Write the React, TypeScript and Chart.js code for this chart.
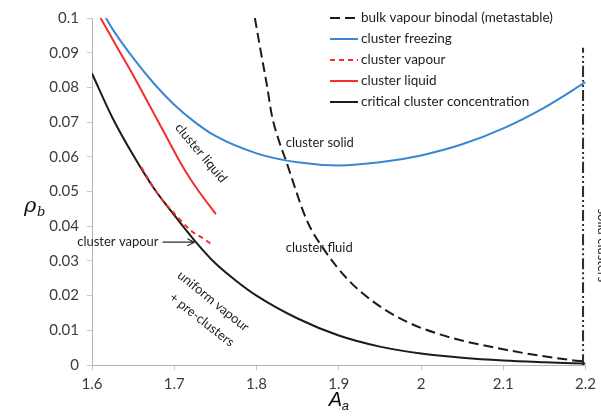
import { useEffect, useRef } from "react";
import { Chart, registerables } from "chart.js";

Chart.register(...registerables);

// Bulk vapour binodal (metastable), dashed black
const binodalA = [1.798, 1.8053, 1.8126, 1.8186, 1.827, 1.8355, 1.861, 1.8826, 1.9116, 1.9394, 1.978, 2.026, 2.105, 2.183, 2.2];
const binodalRho = [0.1, 0.0902, 0.0807, 0.072, 0.0648, 0.0591, 0.0418, 0.0331, 0.0245, 0.0187, 0.013, 0.0086, 0.0043, 0.0014, 0.001];

// Cluster freezing line, blue
const freezeA = [1.6169, 1.625, 1.65, 1.675, 1.7, 1.725, 1.75, 1.8, 1.85, 1.9, 1.95, 2.0, 2.05, 2.1, 2.15, 2.2];
const freezeRho = [0.1, 0.0968, 0.0885, 0.0812, 0.075, 0.07, 0.066, 0.061, 0.0584, 0.0575, 0.0584, 0.0604, 0.0636, 0.0682, 0.0742, 0.0815];

// Cluster vapour branch, dashed red
const vapourA = [1.66, 1.68, 1.7, 1.72, 1.735, 1.7466];
const vapourRho = [0.057, 0.0493, 0.0437, 0.0388, 0.0365, 0.0346];

// Cluster liquid branch, red
const liquidA = [1.6105, 1.63, 1.65, 1.67, 1.69, 1.71, 1.73, 1.7506];
const liquidRho = [0.1, 0.0918, 0.0835, 0.0748, 0.066, 0.0573, 0.05, 0.0435];

// Critical cluster concentration, black
const criticalA = [1.6, 1.625, 1.65, 1.675, 1.7, 1.725, 1.75, 1.775, 1.8, 1.85, 1.9, 1.95, 2.0, 2.05, 2.1, 2.15, 2.2];
const criticalRho = [0.084, 0.0712, 0.0605, 0.051, 0.0432, 0.0358, 0.0293, 0.0243, 0.02, 0.0134, 0.0085, 0.0053, 0.0033, 0.0021, 0.0013, 0.0008, 0.0004];

// Boundary of the solid-cluster region, dash-dot
const solidEdgeA = [2.197, 2.197];
const solidEdgeRho = [0, 0.0914];

const seriesNames = [
  "bulk vapour binodal (metastable)",
  "cluster freezing",
  "cluster vapour",
  "cluster liquid",
  "critical cluster concentration",
];

const BLACK = "#1b1b1b";
const BLUE = "#3b86d2";
const RED = "#f52d2d";
const FONT = "Lato";

const pts = (xs: number[], ys: number[]) => xs.map((x, i) => ({ x, y: ys[i] }));

const legendStyles = [
  { color: BLACK, dash: [10, 5] },
  { color: BLUE, dash: [] as number[] },
  { color: RED, dash: [5, 4] },
  { color: RED, dash: [] as number[] },
  { color: BLACK, dash: [] as number[] },
];

const overlay = {
  id: "phaseOverlay",
  afterDraw(chart: any) {
    const { ctx, scales } = chart;
    const xs = scales.x;
    const ys = scales.y;
    const px = (a: number) => xs.getPixelForValue(a);
    const py = (r: number) => ys.getPixelForValue(r);

    ctx.save();
    ctx.fillStyle = "#1e1e1e";
    ctx.textBaseline = "middle";

    // legend
    ctx.font = `13.5px ${FONT}`;
    seriesNames.forEach((name, i) => {
      const y = 18 + i * 21;
      const st = legendStyles[i];
      ctx.save();
      ctx.strokeStyle = st.color;
      ctx.lineWidth = 2;
      ctx.setLineDash(st.dash);
      ctx.beginPath();
      ctx.moveTo(330, y);
      ctx.lineTo(358, y);
      ctx.stroke();
      ctx.restore();
      ctx.textAlign = "left";
      ctx.fillText(name, 361, y);
    });

    // region labels
    ctx.font = `13px ${FONT}`;
    ctx.textAlign = "left";
    ctx.fillText("cluster solid", px(1.8355), py(0.064));
    ctx.fillText("cluster fluid", px(1.8355), py(0.0337));

    const rotated = (text: string, x: number, y: number, deg: number) => {
      ctx.save();
      ctx.translate(x, y);
      ctx.rotate((deg * Math.PI) / 180);
      ctx.textAlign = "center";
      ctx.fillText(text, 0, 0);
      ctx.restore();
    };
    rotated("cluster liquid", px(1.7325), py(0.0611), 50);
    rotated("uniform vapour", px(1.7475), py(0.0184), 39);
    rotated("+ pre-clusters", px(1.7336), py(0.013), 38);
    rotated("solid clusters", 602, py(0.0345), 90);

    // pointer to the cluster vapour branch
    const tipX = px(1.7244);
    const tipY = py(0.0354);
    const tailX = px(1.6858);
    ctx.strokeStyle = "#2a2a2a";
    ctx.lineWidth = 1.2;
    ctx.beginPath();
    ctx.moveTo(tailX, tipY);
    ctx.lineTo(tipX, tipY);
    ctx.moveTo(tipX - 7, tipY - 3.5);
    ctx.lineTo(tipX, tipY);
    ctx.lineTo(tipX - 7, tipY + 3.5);
    ctx.stroke();
    ctx.textAlign = "right";
    ctx.fillText("cluster vapour", tailX - 4, tipY);

    // axis titles
    ctx.fillStyle = "#111";
    ctx.textAlign = "left";
    ctx.textBaseline = "alphabetic";
    ctx.font = `italic 21px "DejaVu Serif"`;
    ctx.fillText("ρ", 24, 212);
    ctx.font = `italic 13px "DejaVu Serif"`;
    ctx.fillText("b", 37, 216);

    const ax = (xs.left + xs.right) / 2;
    ctx.font = `italic 20px "Liberation Sans"`;
    ctx.fillText("A", ax - 10, 406);
    ctx.font = `italic 13px "Liberation Sans"`;
    ctx.fillText("a", ax + 3, 410);
    ctx.restore();
  },
};

export default function App() {
  const ref = useRef<HTMLCanvasElement>(null);

  useEffect(() => {
    if (!ref.current) return;
    const line = (
      data: { x: number; y: number }[],
      color: string,
      dash: number[],
      order: number,
      width = 2
    ) => ({
      data,
      borderColor: color,
      backgroundColor: color,
      borderWidth: width,
      borderDash: dash,
      showLine: true,
      pointRadius: 0,
      fill: false,
      cubicInterpolationMode: "monotone" as const,
      order,
    });

    const chart = new Chart(ref.current, {
      type: "scatter",
      data: {
        datasets: [
          { label: seriesNames[0], ...line(pts(binodalA, binodalRho), BLACK, [10, 5], 3) },
          { label: seriesNames[1], ...line(pts(freezeA, freezeRho), BLUE, [], 2) },
          { label: seriesNames[4], ...line(pts(criticalA, criticalRho), BLACK, [], 4) },
          { label: seriesNames[2], ...line(pts(vapourA, vapourRho), RED, [5, 4], 1) },
          { label: seriesNames[3], ...line(pts(liquidA, liquidRho), RED, [], 1) },
          { label: "solid clusters", ...line(pts(solidEdgeA, solidEdgeRho), "#2b2b2b", [11, 3, 2, 3, 2, 3], 5) },
        ],
      },
      options: {
        animation: false,
        responsive: false,
        devicePixelRatio: 1,
        layout: { padding: { top: 18, right: 12, left: 0, bottom: 0 } },
        plugins: { legend: { display: false }, tooltip: { enabled: false } },
        scales: {
          x: {
            type: "linear",
            min: 1.6,
            max: 2.2,
            afterFit: (s: any) => {
              s.height = 53;
            },
            ticks: {
              stepSize: 0.1,
              padding: 5,
              color: "#3c3c3c",
              font: { family: FONT, size: 15 },
              callback: (v: any) => String(Math.round(Number(v) * 10) / 10),
            },
            grid: { drawOnChartArea: false, drawTicks: true, tickLength: 5, color: "#c8c8c8" },
            border: { display: true, color: "#b4b4b4", width: 1 },
          },
          y: {
            type: "linear",
            min: 0,
            max: 0.1,
            afterFit: (s: any) => {
              s.width = 92;
            },
            ticks: {
              stepSize: 0.01,
              padding: 8,
              color: "#3c3c3c",
              font: { family: FONT, size: 15 },
              callback: (v: any) => String(Math.round(Number(v) * 100) / 100),
            },
            grid: { drawOnChartArea: false, drawTicks: true, tickLength: 5, color: "#c8c8c8" },
            border: { display: true, color: "#b4b4b4", width: 1 },
          },
        },
      },
      plugins: [overlay],
    });
    return () => chart.destroy();
  }, []);

  return (
    <div style={{ position: "fixed", left: 0, top: 0, width: 601, height: 418, background: "#fff" }}>
      <canvas ref={ref} width={601} height={418} style={{ display: "block" }} />
    </div>
  );
}
